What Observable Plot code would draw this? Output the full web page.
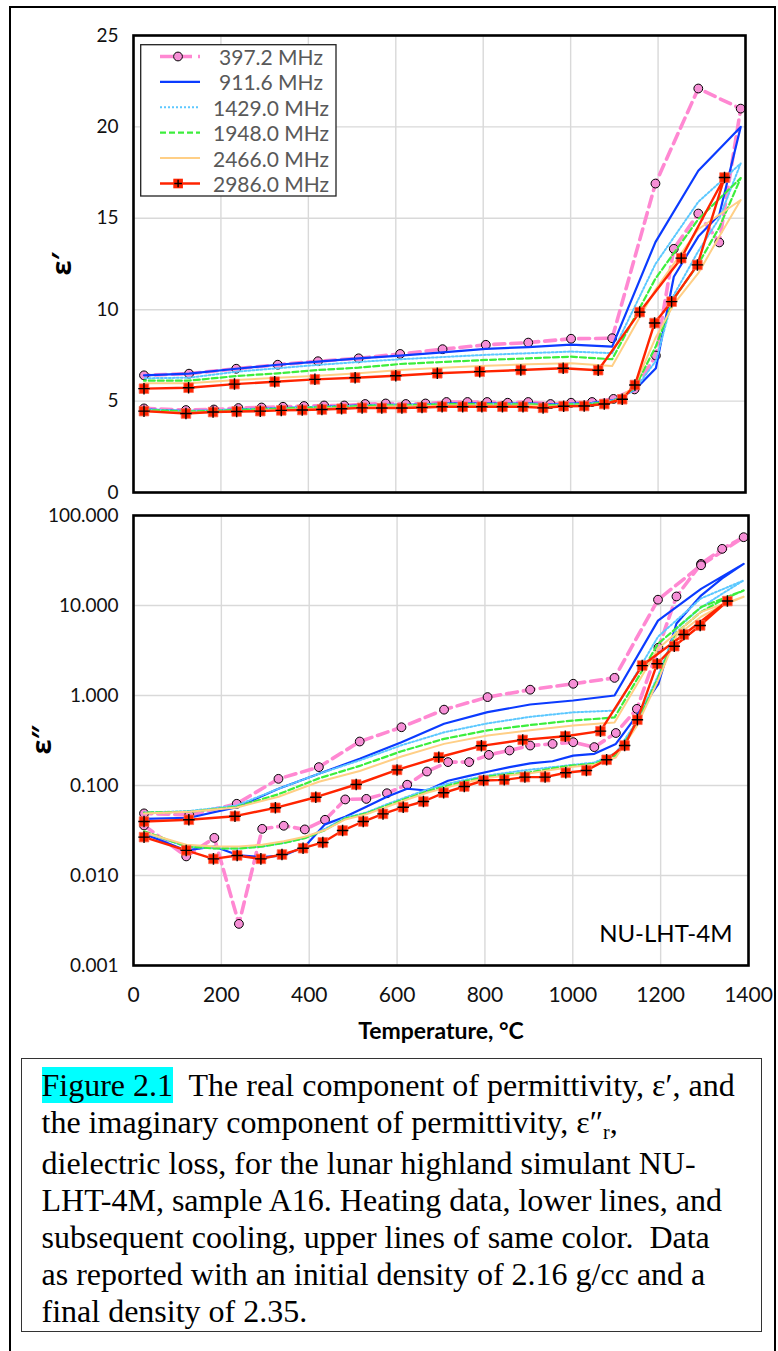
<!DOCTYPE html>
<html><head><meta charset="utf-8">
<script src="https://cdn.jsdelivr.net/npm/d3@7"></script>
<script src="https://cdn.jsdelivr.net/npm/@observablehq/plot@0.6"></script>
<style>
body{margin:0;background:#fff;}
#root{position:relative;width:778px;height:1351px;overflow:hidden;font-family:Lato,'Open Sans',sans-serif;}
#page{position:absolute;left:9px;top:6px;width:767px;height:1360px;border:2px solid #000;border-bottom:none;box-sizing:border-box;}
.plotwrap{position:absolute;left:0;}
.ytitle{position:absolute;transform:translate(-50%,-50%) rotate(-90deg);font-weight:bold;font-size:27px;font-family:'Open Sans',Lato,sans-serif;color:#000;white-space:nowrap;}
#cap{position:absolute;left:21px;top:1058px;width:741px;height:274px;border:1.5px solid #333;box-sizing:border-box;font-family:'Liberation Serif','Times New Roman',serif;font-size:32px;line-height:37px;color:#000;padding:8px 0 0 19.5px;white-space:pre;}
#cap .hl{background:#00ffff;}
#cap .sub{font-size:20px;position:relative;top:6px;}
</style></head><body><div id="root"><div id="page"></div></div>
<script>
// ---------- data ----------
const freqs = ["397.2 MHz", "911.6 MHz", "1429.0 MHz", "1948.0 MHz", "2466.0 MHz", "2986.0 MHz"];
const xTicks = [0, 200, 400, 600, 800, 1000, 1200, 1400];
const yTicksReal = [0, 5, 10, 15, 20, 25];
const yTicksLoss = [0.001, 0.01, 0.1, 1, 10, 100];

// temperatures (°C): heating then cooling
const tempHeatA = [24,120,184,240,293,342,390,436,482,530,577,623,668,716,764,809,856,903,954,1001,1049,1098,1146,1195,1236,1292,1340,1389];
const tempCoolA = [1292,1194,1095,1001,903,806,707,610,515,422,330,235,127,24];
const tempHeatB = [24,120,182,236,290,338,386,431,476,523,568,614,660,706,753,797,844,891,937,984,1031,1077,1118,1147,1192,1231,1290,1352];
const tempCoolB = [1253,1158,1063,983,886,792,695,600,507,415,323,231,126,24];

// ε′ (real permittivity)
const real397Heat = [4.60,4.51,4.54,4.62,4.65,4.69,4.73,4.76,4.76,4.84,4.87,4.84,4.87,4.95,4.95,4.95,4.91,4.95,4.84,4.91,4.95,5.12,5.64,7.49,13.33,15.26,13.68,21.0];
const real397Cool = [22.1,16.9,8.44,8.41,8.20,8.08,7.84,7.58,7.34,7.18,6.99,6.77,6.50,6.41];
const real912Heat = [4.55,4.45,4.48,4.55,4.58,4.62,4.66,4.70,4.72,4.78,4.80,4.80,4.82,4.88,4.88,4.88,4.86,4.88,4.82,4.86,4.90,5.05,5.6,6.8,11.8,14.0,15.2,20.0];
const real912Cool = [17.6,13.7,7.98,8.09,7.95,7.86,7.67,7.49,7.34,7.16,6.99,6.77,6.50,6.41];
const real1429Heat = [4.55,4.46,4.50,4.55,4.58,4.62,4.66,4.70,4.72,4.77,4.80,4.80,4.82,4.86,4.86,4.86,4.85,4.86,4.80,4.85,4.88,5.05,5.6,7.2,10.8,13.2,15.0,18.0];
const real1429Cool = [15.9,12.5,7.62,7.71,7.62,7.53,7.41,7.29,7.14,6.98,6.80,6.61,6.28,6.25];
const real1948Heat = [4.52,4.43,4.46,4.52,4.55,4.59,4.63,4.67,4.69,4.74,4.77,4.77,4.79,4.83,4.83,4.83,4.82,4.83,4.77,4.82,4.85,5.0,5.7,8.0,10.6,12.5,14.5,17.2];
const real1948Cool = [14.95,11.7,7.29,7.43,7.34,7.25,7.14,7.03,6.83,6.70,6.52,6.37,6.12,6.12];
const real2466Heat = [4.45,4.36,4.40,4.45,4.48,4.52,4.56,4.60,4.62,4.67,4.70,4.70,4.72,4.76,4.76,4.76,4.75,4.76,4.70,4.75,4.78,4.95,5.8,8.5,10.3,12.0,14.0,16.0];
const real2466Cool = [14.4,11.1,6.92,7.07,7.01,6.94,6.83,6.70,6.52,6.39,6.28,6.15,5.97,5.97];
const real2986Heat = [4.45,4.32,4.40,4.43,4.45,4.49,4.51,4.54,4.58,4.63,4.62,4.62,4.65,4.69,4.69,4.69,4.69,4.69,4.63,4.72,4.73,4.84,5.10,5.88,9.27,10.44,12.45,17.23];
const real2986Cool = [12.82,9.87,6.69,6.80,6.70,6.61,6.52,6.39,6.28,6.19,6.06,5.93,5.73,5.68];

// ε″ (dielectric loss)
const loss397Heat = [0.036,0.0163,0.0262,0.0029,0.033,0.0357,0.0325,0.0416,0.070,0.071,0.082,0.102,0.143,0.182,0.182,0.219,0.245,0.278,0.290,0.303,0.267,0.383,0.71,3.4,12.6,29.0,42.6,57.4];
const loss397Cool = [28.0,11.6,1.57,1.35,1.16,0.96,0.696,0.444,0.308,0.160,0.1186,0.0626,0.047,0.049];
const loss912Heat = [0.029,0.019,0.021,0.0167,0.016,0.0167,0.021,0.037,0.045,0.058,0.075,0.092,0.088,0.113,0.128,0.143,0.160,0.176,0.186,0.215,0.225,0.29,0.6,1.35,6.3,12.9,20.0,29.0];
const loss912Cool = [15.3,6.8,1.0,0.88,0.794,0.653,0.485,0.303,0.198,0.135,0.092,0.0574,0.0438,0.0425];
const loss1429Heat = [0.030,0.021,0.020,0.020,0.021,0.023,0.026,0.033,0.044,0.050,0.062,0.075,0.090,0.105,0.118,0.130,0.140,0.150,0.160,0.170,0.180,0.23,0.52,1.7,5.5,9.5,13.5,19.0];
const loss1429Cool = [12.0,4.5,0.68,0.65,0.58,0.49,0.39,0.28,0.19,0.135,0.092,0.060,0.052,0.050];
const loss1948Heat = [0.031,0.021,0.020,0.020,0.021,0.023,0.026,0.032,0.043,0.049,0.060,0.072,0.086,0.100,0.114,0.126,0.134,0.140,0.155,0.167,0.174,0.215,0.49,1.6,5.0,8.5,11.5,14.7];
const loss1948Cool = [9.6,3.75,0.57,0.527,0.47,0.41,0.33,0.24,0.165,0.12,0.08,0.058,0.051,0.050];
const loss2466Heat = [0.030,0.022,0.021,0.021,0.022,0.024,0.027,0.032,0.042,0.048,0.058,0.070,0.083,0.096,0.110,0.122,0.130,0.137,0.150,0.162,0.170,0.205,0.46,1.5,4.6,7.5,10.0,12.5];
const loss2466Cool = [8.5,3.3,0.50,0.464,0.41,0.36,0.29,0.21,0.145,0.11,0.075,0.057,0.051,0.049];
const loss2986Heat = [0.0267,0.0190,0.0153,0.0167,0.0153,0.0171,0.0201,0.0233,0.0316,0.0398,0.0484,0.0574,0.0664,0.0830,0.0975,0.1137,0.1156,0.124,0.124,0.1384,0.1468,0.193,0.278,0.537,2.25,3.53,6.0,11.2];
const loss2986Cool = [4.76,2.15,0.402,0.352,0.321,0.276,0.206,0.149,0.1026,0.0741,0.0565,0.0456,0.0416,0.0398];

const captionLines = [
  "The real component of permittivity, ε′, and",
  "the imaginary component of permittivity, ε″",
  "dielectric loss, for the lunar highland simulant NU-",
  "LHT-4M, sample A16. Heating data, lower lines, and",
  "subsequent cooling, upper lines of same color.  Data",
  "as reported with an initial density of 2.16 g/cc and a",
  "final density of 2.35."
];

// ---------- build tables ----------
function series(freq, th, vh, tc, vc) {
  const out = [];
  th.forEach((t, i) => out.push({freq, T: t, v: vh[i]}));
  tc.forEach((t, i) => out.push({freq, T: t, v: vc[i]}));
  return out;
}
const realSeries = [
  series(freqs[0], tempHeatA, real397Heat, tempCoolA, real397Cool),
  series(freqs[1], tempHeatA, real912Heat, tempCoolA, real912Cool),
  series(freqs[2], tempHeatA, real1429Heat, tempCoolA, real1429Cool),
  series(freqs[3], tempHeatA, real1948Heat, tempCoolA, real1948Cool),
  series(freqs[4], tempHeatA, real2466Heat, tempCoolA, real2466Cool),
  series(freqs[5], tempHeatB, real2986Heat, tempCoolB, real2986Cool)
];
const lossSeries = [
  series(freqs[0], tempHeatA, loss397Heat, tempCoolA, loss397Cool),
  series(freqs[1], tempHeatA, loss912Heat, tempCoolA, loss912Cool),
  series(freqs[2], tempHeatA, loss1429Heat, tempCoolA, loss1429Cool),
  series(freqs[3], tempHeatA, loss1948Heat, tempCoolA, loss1948Cool),
  series(freqs[4], tempHeatA, loss2466Heat, tempCoolA, loss2466Cool),
  series(freqs[5], tempHeatB, loss2986Heat, tempCoolB, loss2986Cool)
];

const styles = [
  {stroke: "#ff88d2", strokeWidth: 3.6, strokeDasharray: "11,6"},
  {stroke: "#0b3bff", strokeWidth: 2.2},
  {stroke: "#5cc8ff", strokeWidth: 2, strokeDasharray: "2,2"},
  {stroke: "#3cee3c", strokeWidth: 2.2, strokeDasharray: "6,3"},
  {stroke: "#ffcf86", strokeWidth: 2},
  {stroke: "#ff2400", strokeWidth: 2.4}
];

function seriesMarks(data) {
  const marks = [];
  data.forEach((d, i) => {
    marks.push(Plot.line(d, {x: "T", y: "v", ...styles[i], strokeLinejoin: "round"}));
    if (i === 0) marks.push(Plot.dot(d, {x: "T", y: "v", r: 4.4, fill: "#f68fd6", stroke: "#000", strokeWidth: 1}));
    if (i === 5) {
      marks.push(Plot.dot(d, {x: "T", y: "v", symbol: "square", r: 5.4, fill: "#ff2400", stroke: "#ff6a50", strokeWidth: 0.8}));
      marks.push(Plot.dot(d, {x: "T", y: "v", symbol: "plus", r: 3.8, stroke: "#000", strokeWidth: 1.4}));
    }
  });
  return marks;
}

const gridStyle = {stroke: "#d9d9d9", strokeOpacity: 1, strokeWidth: 1.4};
const fontStyle = {fontFamily: "Lato, 'Open Sans', sans-serif", fontSize: "19px", background: "transparent", overflow: "visible", color: "#000"};
const yTickFont = 19;
const xTickFont = 21;

const topPlot = Plot.plot({
  width: 778, height: 500,
  marginLeft: 133, marginRight: 33, marginTop: 35, marginBottom: 8,
  style: fontStyle,
  x: {domain: [0, 1400], axis: null, label: null},
  y: {domain: [0, 25], label: null},
  marks: [
    Plot.gridX(xTicks, gridStyle),
    Plot.gridY(yTicksReal, gridStyle),
    Plot.axisY(yTicksReal, {tickSize: 0, tickPadding: 15, fontSize: yTickFont, fill: "#111", label: null}),
    ...seriesMarks(realSeries),
    Plot.frame({stroke: "#000", strokeWidth: 2.6})
  ]
});

const botPlot = Plot.plot({
  width: 778, height: 545,
  marginLeft: 133, marginRight: 30, marginTop: 15, marginBottom: 80,
  style: fontStyle,
  x: {domain: [0, 1400], label: null},
  y: {type: "log", domain: [0.001, 100], label: null},
  marks: [
    Plot.gridX(xTicks, gridStyle),
    Plot.gridY(yTicksLoss, gridStyle),
    Plot.axisY(yTicksLoss, {tickSize: 0, tickPadding: 15, fontSize: yTickFont, fill: "#111", tickFormat: d3.format(".3f"), label: null}),
    Plot.axisX(xTicks, {tickSize: 0, tickPadding: 22, fontSize: xTickFont, fill: "#111", tickFormat: d => String(d), label: null}),
    ...seriesMarks(lossSeries),
    Plot.text(["NU-LHT-4M"], {frameAnchor: "bottom-right", dx: -16, dy: -31, textAnchor: "end", lineAnchor: "middle", fontSize: 24, fill: "#000"}),
    Plot.text(["Temperature, °C"], {frameAnchor: "bottom", dy: 66, lineAnchor: "middle", fontSize: 23, fontWeight: "bold", fill: "#000"}),
    Plot.frame({stroke: "#000", strokeWidth: 2.6})
  ]
});

const root = document.getElementById("root");
const w1 = document.createElement("div"); w1.className = "plotwrap"; w1.style.top = "0px"; w1.appendChild(topPlot); root.appendChild(w1);
const w2 = document.createElement("div"); w2.className = "plotwrap"; w2.style.top = "500px"; w2.appendChild(botPlot); root.appendChild(w2);

// y-axis titles
const t1 = document.createElement("div"); t1.className = "ytitle"; t1.style.left = "60px"; t1.style.top = "264px"; t1.textContent = "ε′"; root.appendChild(t1);
const t2 = document.createElement("div"); t2.className = "ytitle"; t2.style.left = "40px"; t2.style.top = "740px"; t2.textContent = "ε″"; root.appendChild(t2);

// legend
const NS = "http://www.w3.org/2000/svg";
const leg = document.createElementNS(NS, "svg");
leg.setAttribute("width", 197); leg.setAttribute("height", 153);
leg.style.position = "absolute"; leg.style.left = "140px"; leg.style.top = "44px";
function el(name, attrs, parent) { const e = document.createElementNS(NS, name); for (const k in attrs) e.setAttribute(k, attrs[k]); parent.appendChild(e); return e; }
el("rect", {x: 0.7, y: 0.7, width: 195.3, height: 151.3, fill: "#fff", stroke: "#222", "stroke-width": 1.3}, leg);
freqs.forEach((f, i) => {
  const cy = 12.5 + i * 25.4;
  const s = styles[i];
  const ln = el("line", {x1: 20, x2: 60, y1: cy, y2: cy, stroke: s.stroke, "stroke-width": s.strokeWidth}, leg);
  if (s.strokeDasharray) ln.setAttribute("stroke-dasharray", i === 0 ? "13,6" : s.strokeDasharray);
  if (i === 0) el("circle", {cx: 38, cy, r: 4.4, fill: "#f68fd6", stroke: "#000", "stroke-width": 1}, leg);
  if (i === 5) {
    el("rect", {x: 33.3, y: cy - 4.8, width: 9.6, height: 9.6, fill: "#ff2400"}, leg);
    el("path", {d: `M${38.1 - 3.8},${cy}H${38.1 + 3.8}M38.1,${cy - 3.8}V${cy + 3.8}`, stroke: "#000", "stroke-width": 1.4}, leg);
  }
  const tx = el("text", {x: 131, y: cy, "text-anchor": "middle", "dominant-baseline": "central", fill: "#595959", "font-size": 21, "font-family": "Lato, 'Open Sans', sans-serif"}, leg);
  tx.textContent = f;
});
root.appendChild(leg);

// caption
const cap = document.createElement("div"); cap.id = "cap";
const hl = document.createElement("span"); hl.className = "hl"; hl.textContent = "Figure 2.1"; cap.appendChild(hl);
cap.appendChild(document.createTextNode("  " + captionLines[0]));
cap.appendChild(document.createElement("br"));
cap.appendChild(document.createTextNode(captionLines[1]));
const sub = document.createElement("span"); sub.className = "sub"; sub.textContent = "r"; cap.appendChild(sub);
cap.appendChild(document.createTextNode(","));
for (let i = 2; i < captionLines.length; i++) {
  cap.appendChild(document.createElement("br"));
  cap.appendChild(document.createTextNode(captionLines[i]));
}
root.appendChild(cap);
</script>
</body></html>
